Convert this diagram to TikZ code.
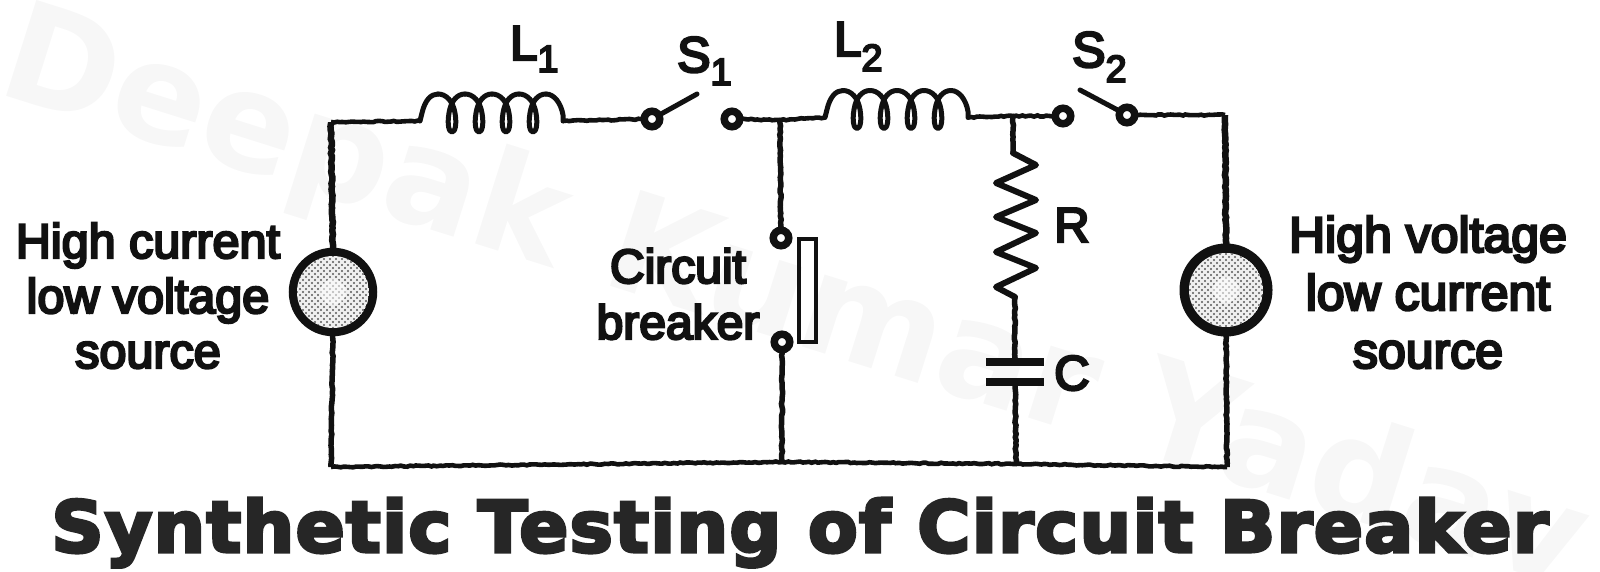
\documentclass[tikz,border=0pt]{standalone}
\usepackage{fontspec}
\usetikzlibrary{decorations.pathmorphing}
\setmainfont{Liberation Sans}
\newfontfamily\scanfont[FakeBold=5]{Liberation Sans}
\newfontfamily\titlefont[LetterSpace=2.0,FakeStretch=1.02,FakeBold=4.5]{DejaVu Sans Bold}
\newfontfamily\markfont{DejaVu Sans Bold}
\definecolor{ink}{HTML}{111111}
\definecolor{titleink}{HTML}{262626}
\definecolor{markgrey}{HTML}{F7F7F7}
\tikzset{
  wire/.style={draw=ink,line width=4.6pt,line join=miter,decorate,decoration={random steps,segment length=3pt,amplitude=.6pt}},
  thickwire/.style={wire,line width=6.5pt},
  midwire/.style={wire,line width=5.5pt},
  smooth line/.style={draw=ink,line width=5pt,line cap=round,line join=round},
  terminal/.style={circle,draw=ink,fill=white,line width=7.5pt,minimum size=15.5pt,inner sep=0pt,outer sep=0pt},
  coilbox/.style={inner sep=0pt,outer sep=0pt,minimum width=143pt,minimum height=1pt},
  plate/.style={fill=ink,inner sep=0pt,outer sep=0pt,minimum width=58pt,minimum height=8pt},
  cbbar/.style={draw=ink,line width=4.4pt,fill=none,inner sep=0pt,outer sep=0pt,minimum width=17pt,minimum height=103pt},
  sourcedisc/.style={circle,draw=ink,inner sep=0pt,outer sep=0pt},
  labeltext/.style={inner sep=0pt,text=ink,font=\scanfont},
  blocktext/.style={labeltext,align=center},
}
\newcommand{\coilfrom}[1]{%
  \begin{scope}[shift={(#1.west)}]
    \draw[smooth line] (0,0) -- (2,-8) .. controls (5,-21) and (11,-27) .. (18,-27);
    \foreach \k in {0,27,54,81}{
      \draw[smooth line] (\k+18,-27) .. controls (\k+26,-27) and (\k+33,-20) .. (\k+35,-8)
        .. controls (\k+37,4) and (\k+35,11) .. (\k+32,11)
        .. controls (\k+29,11) and (\k+27,4) .. (\k+29,-8)
        .. controls (\k+31,-20) and (\k+37,-27) .. (\k+45,-27);
    }
    \draw[smooth line] (126,-27) .. controls (134,-27) and (141,-18) .. (143,-6) -- (143,0);
  \end{scope}}
\newcommand{\discdots}[3]{%
  \begin{scope}
    \clip (#1,#2) circle (#3pt);
    \fill[black!6] (#1,#2) circle (#3pt);
    \foreach \i in {-8,...,8}{\foreach \j in {-8,...,8}{
      \fill[black!65] ({#1+(\i+\j)*3},{#2+(\i-\j)*3}) circle (1.15pt);
    }}
    \fill[white,opacity=.55] (#1,#2) circle (13pt);
  \end{scope}}
\begin{document}
\begin{tikzpicture}[x=1pt,y=-1pt]
\useasboundingbox (0,0) rectangle (1600,572);
\pgfmathsetseed{7}
% watermark
\node[inner sep=0pt,text=markgrey,font=\markfont\fontsize{138}{138}\selectfont,rotate=-17.5] (mark) at (793,304) {Deepak Kumar Yadav};
% corner points
\coordinate (c1) at (331,122);
\coordinate (c2) at (1225,115);
\coordinate (c3) at (1227,467);
\coordinate (c4) at (331,467);
\coordinate (j1) at (780,120);
\coordinate (j2) at (1013,116);
\coordinate (b1) at (782,462);
\coordinate (b2) at (1016,464);
\coordinate (s1free) at (697,94);
\coordinate (s2free) at (1080,90);
\coordinate (rtop) at (1013,153);
\coordinate (rbot) at (1015,297);
% components
\node[coilbox] (L1) at (491.5,121) {};
\node[coilbox] (L2) at (896.5,117.5) {};
\node[terminal] (t1) at (652,119) {};
\node[terminal] (t2) at (732,119) {};
\node[terminal] (t3) at (1063,116) {};
\node[terminal] (t4) at (1127,115) {};
\node[terminal] (cb1) at (781,238) {};
\node[terminal] (cb2) at (782,342) {};
\node[cbbar] (bar) at (807.5,290.5) {};
\node[plate] (capT) at (1015,362) {};
\node[plate] (capB) at (1015,382) {};
\node[sourcedisc,line width=9.5pt,minimum size=79pt] (srcL) at (333,292) {};
\node[sourcedisc,line width=11pt,minimum size=82pt] (srcR) at (1226,290) {};
\discdots{333}{292}{36}
\discdots{1226}{290}{37}
\coilfrom{L1}
\coilfrom{L2}
% connectors
\draw[thickwire] (srcL.north) -- (c1);
\draw[wire] (c1) -- (L1.west);
\draw[wire] (L1.east) -- (t1);
\draw[smooth line] (t1) -- (s1free);
\draw[wire] (t2) -- (j1);
\draw[wire] (j1) -- (L2.west);
\draw[wire] (L2.east) -- (j2);
\draw[wire] (j2) -- (t3);
\draw[smooth line] (t4) -- (s2free);
\draw[wire] (t4) -- (c2);
\draw[thickwire] (c2) -- (srcR.north);
\draw[midwire] (srcR.south) -- (c3);
\draw[wire] (c3) -- (b2);
\draw[wire] (b2) -- (b1);
\draw[wire] (b1) -- (c4);
\draw[midwire] (c4) -- (srcL.south);
\draw[midwire] (j1) -- (cb1);
\draw[midwire] (cb2) -- (b1);
\draw[midwire] (j2) -- (rtop);
\draw[smooth line,line width=6pt] (rtop) -- (1036,165) -- (996,183) -- (1036,200) -- (996,217) -- (1036,233) -- (996,252) -- (1036,268) -- (996,287) -- (rbot);
\draw[midwire] (rbot) -- (capT);
\draw[midwire] (capB) -- (b2);
% labels
\node[labeltext,anchor=base west,font=\scanfont\fontsize{49}{49}\selectfont] (lL1) at (510,60) {L\raisebox{-12pt}{\fontsize{38}{38}\selectfont 1}};
\node[labeltext,anchor=base west,font=\scanfont\fontsize{50}{50}\selectfont] (lS1) at (677,72) {S\raisebox{-13pt}{\fontsize{38}{38}\selectfont 1}};
\node[labeltext,anchor=base west,font=\scanfont\fontsize{49}{49}\selectfont] (lL2) at (834,56) {L\raisebox{-15pt}{\fontsize{38}{38}\selectfont 2}};
\node[labeltext,anchor=base west,font=\scanfont\fontsize{50}{50}\selectfont] (lS2) at (1072,67) {S\raisebox{-15pt}{\fontsize{38}{38}\selectfont 2}};
\node[labeltext,anchor=base west,font=\scanfont\fontsize{49}{49}\selectfont] (lR) at (1054,242) {R};
\node[labeltext,anchor=base west,font=\scanfont\fontsize{49}{49}\selectfont] (lC) at (1054,390) {C};
\node[blocktext,anchor=base,font=\scanfont\fontsize{48.5}{55}\selectfont] (lLeft) at (148,368) {High current\\low voltage\\source};
\node[blocktext,anchor=base,font=\scanfont\fontsize{50}{58}\selectfont] (lRight) at (1428,368) {High voltage\\low current\\source};
\node[blocktext,anchor=base,font=\scanfont\fontsize{48}{56}\selectfont] (lCB) at (678,339) {Circuit\\breaker};
\node[inner sep=0pt,anchor=base,text=titleink,font=\titlefont\fontsize{71}{71}\selectfont] (title) at (800,552) {Synthetic Testing of Circuit Breaker};
\end{tikzpicture}
\end{document}
